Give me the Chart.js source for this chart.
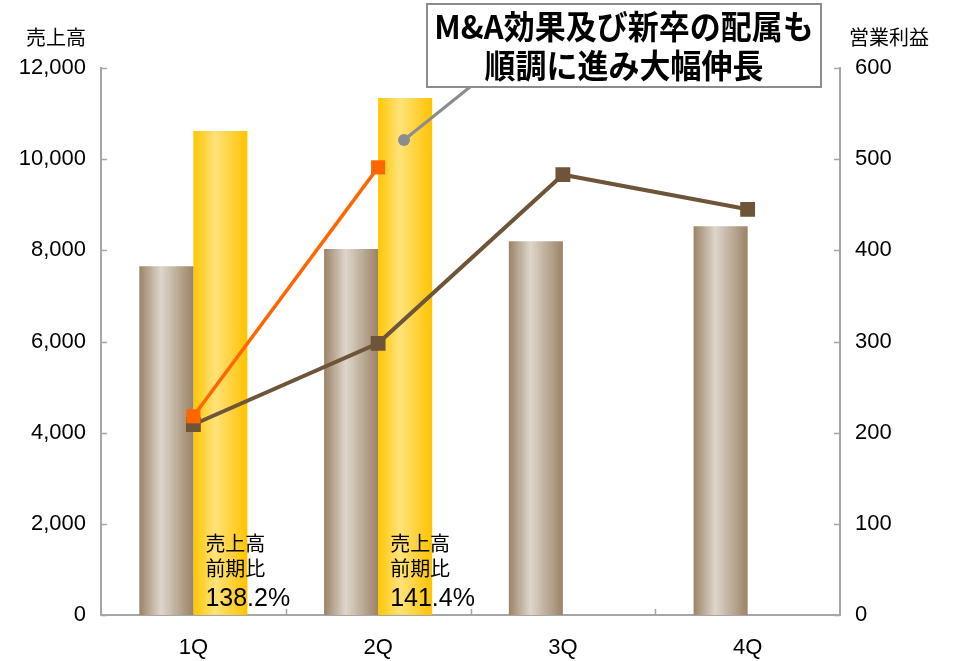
<!DOCTYPE html>
<html>
<head>
<meta charset="utf-8">
<script src="https://cdn.jsdelivr.net/npm/chart.js@4.4.0/dist/chart.umd.min.js"></script>
<style>
  html, body { margin: 0; padding: 0; background: #fff; }
  #wrap { width: 955px; height: 661px; position: relative; }
</style>
</head>
<body>
<div id="wrap"><canvas id="chart" width="955" height="661"></canvas></div>
<script>
// data
const quarters = ['1Q', '2Q', '3Q', '4Q'];
const salesPrev = [7650, 8030, 8200, 8530];      // 売上高 前年 (brown bars)
const salesCur = [10620, 11340, null, null];    // 売上高 今期 (gold bars)
const profitPrev = [209, 298, 483, 445];         // 営業利益 前年 (brown line)
const profitCur = [218, 491, null, null];        // 営業利益 今期 (orange line)
const growthLabels = ['138.2%', '141.4%'];
const calloutLines = ['M&A効果及び新卒の配属も', '順調に進み大幅伸長'];

const JP = '"Noto Sans CJK JP", "Noto Sans", sans-serif';
const NUM = '"Liberation Sans", Arial, sans-serif';
const CAT_PCT = 0.585;

// cylinder-like horizontal gradient for each bar
function barGradient(context, side, stops) {
  const chart = context.chart;
  const x = chart.scales.x;
  if (!chart.chartArea || !x || context.dataIndex === undefined) return stops[1];
  const center = x.getPixelForValue(context.dataIndex);
  const w = (x.width / quarters.length) * CAT_PCT / 2;
  const x0 = side < 0 ? center - w : center;
  const g = chart.ctx.createLinearGradient(x0, 0, x0 + w, 0);
  g.addColorStop(0, stops[0]);
  g.addColorStop(0.4, stops[1]);
  g.addColorStop(1, stops[2]);
  return g;
}

// ticks pointing into the plot, axis titles, notes and the callout
const decorations = {
  id: 'decorations',
  afterDraw(chart) {
    const ctx = chart.ctx;
    const area = chart.chartArea;
    const x = chart.scales.x, y = chart.scales.y, y1 = chart.scales.y1;
    ctx.save();
    ctx.strokeStyle = '#a6a6a6';
    ctx.lineWidth = 1.5;
    ctx.beginPath();
    y.ticks.forEach(t => {
      const py = Math.round(y.getPixelForValue(t.value)) + 0.5;
      ctx.moveTo(area.left, py); ctx.lineTo(area.left + 6, py);
    });
    y1.ticks.forEach(t => {
      const py = Math.round(y1.getPixelForValue(t.value)) + 0.5;
      ctx.moveTo(area.right, py); ctx.lineTo(area.right - 6, py);
    });
    const cw = x.width / quarters.length;
    for (let i = 1; i < quarters.length; i++) {
      const px = Math.round(area.left + cw * i) + 0.5;
      ctx.moveTo(px, area.bottom); ctx.lineTo(px, area.bottom - 6);
    }
    ctx.stroke();

    // axis titles
    ctx.fillStyle = '#000';
    ctx.font = '20px ' + JP;
    ctx.textBaseline = 'middle';
    ctx.textAlign = 'right';
    ctx.fillText('売上高', 86, 37);
    ctx.textAlign = 'left';
    ctx.fillText('営業利益', 849, 37);

    // growth notes
    growthLabels.forEach((label, i) => {
      const px = x.getPixelForValue(i) + 12;
      ctx.textAlign = 'left';
      ctx.textBaseline = 'alphabetic';
      ctx.font = '20px ' + JP;
      ctx.fillText('売上高', px, 551);
      ctx.fillText('前期比', px, 576);
      ctx.font = '25px ' + NUM;
      ctx.fillText(label, px, 606);
    });

    // callout pointer
    ctx.strokeStyle = '#8c8c8c';
    ctx.lineWidth = 3;
    ctx.beginPath();
    ctx.moveTo(404, 140); ctx.lineTo(470, 87);
    ctx.stroke();
    ctx.fillStyle = '#8c8c8c';
    ctx.beginPath();
    ctx.arc(404, 140, 6, 0, Math.PI * 2);
    ctx.fill();

    // callout box
    ctx.fillStyle = '#fff';
    ctx.fillRect(427, 4, 394, 83);
    ctx.strokeStyle = '#8c8c8c';
    ctx.lineWidth = 2;
    ctx.strokeRect(427, 4, 394, 83);
    ctx.fillStyle = '#000';
    ctx.font = 'bold 31px ' + JP;
    ctx.textAlign = 'center';
    ctx.textBaseline = 'middle';
    const fits = [384, 300];
    calloutLines.forEach((line, i) => {
      const cy = i === 0 ? 27 : 66;
      const w = ctx.measureText(line).width;
      const s = Math.min(1, fits[i] / w);
      ctx.save();
      ctx.translate(624, cy);
      ctx.scale(s, 1.05);
      ctx.fillText(line, 0, 0);
      ctx.restore();
    });
    ctx.restore();
  }
};

new Chart(document.getElementById('chart'), {
  type: 'bar',
  data: {
    labels: quarters,
    datasets: [
      {
        type: 'line',
        label: '営業利益 今期',
        data: profitCur,
        yAxisID: 'y1',
        borderColor: '#ff6600',
        backgroundColor: '#ff6600',
        borderWidth: 3.5,
        pointStyle: 'rect',
        pointRadius: 10,
        pointBorderWidth: 0,
        tension: 0
      },
      {
        type: 'line',
        label: '営業利益 前年',
        data: profitPrev,
        yAxisID: 'y1',
        borderColor: '#6e5439',
        backgroundColor: '#6e5439',
        borderWidth: 4,
        pointStyle: 'rect',
        pointRadius: 10.5,
        pointBorderWidth: 0,
        tension: 0
      },
      {
        label: '売上高 前年',
        data: salesPrev,
        yAxisID: 'y',
        backgroundColor: ctx => barGradient(ctx, -1, ['#9b8366', '#ded6cc', '#9b8366']),
        categoryPercentage: CAT_PCT,
        barPercentage: 1
      },
      {
        label: '売上高 今期',
        data: salesCur,
        yAxisID: 'y',
        backgroundColor: ctx => barGradient(ctx, 1, ['#ffc600', '#ffe27a', '#ffc300']),
        categoryPercentage: CAT_PCT,
        barPercentage: 1
      }
    ]
  },
  options: {
    responsive: false,
    animation: false,
    layout: { padding: { top: 68, left: 0, right: 0, bottom: 0 } },
    plugins: {
      legend: { display: false },
      tooltip: { enabled: false }
    },
    scales: {
      x: {
        grid: { display: false },
        border: { display: true, color: '#a6a6a6', width: 2 },
        ticks: { color: '#000', font: { family: NUM, size: 22 }, padding: 12 },
        afterFit: scale => { scale.height = 46; }
      },
      y: {
        position: 'left',
        min: 0,
        max: 12000,
        grid: { display: false },
        border: { display: true, color: '#a6a6a6', width: 2 },
        ticks: {
          stepSize: 2000,
          color: '#000',
          padding: 7,
          font: { family: NUM, size: 22 },
          callback: v => v.toLocaleString('en-US')
        },
        afterFit: scale => { scale.width = 101; }
      },
      y1: {
        position: 'right',
        min: 0,
        max: 600,
        grid: { display: false },
        border: { display: true, color: '#a6a6a6', width: 2 },
        ticks: {
          stepSize: 100,
          color: '#000',
          padding: 7,
          font: { family: NUM, size: 22 }
        },
        afterFit: scale => { scale.width = 115; }
      }
    }
  },
  plugins: [decorations]
});
</script>
</body>
</html>
